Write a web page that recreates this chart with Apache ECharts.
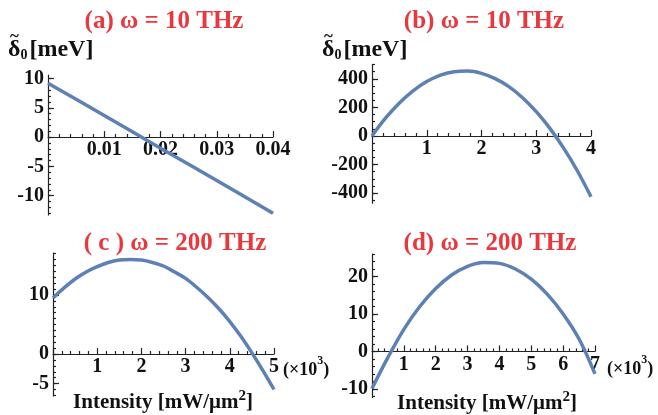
<!DOCTYPE html>
<html>
<head>
<meta charset="utf-8">
<script src="https://cdn.jsdelivr.net/npm/echarts@6/dist/echarts.min.js"></script>
<style>
  html, body { margin: 0; padding: 0; background: #fff; }
  #main { width: 658px; height: 415px; }
</style>
</head>
<body>
<div id="main"></div>
<script>
// (a) w = 10 THz, straight line
const xA = [0, 0.01, 0.02, 0.03, 0.04];
const yA = [9.2, 3.7, -1.9, -7.4, -13.0];

// (b) w = 10 THz
const xB = [0, 0.25, 0.5, 0.75, 1, 1.25, 1.5, 1.75, 2, 2.25, 2.5, 2.75, 3, 3.25, 3.5, 3.75, 4];
const yB = [0, 126, 231, 316, 381, 426, 450, 454, 438, 401, 345, 268, 170, 53, -85, -243, -425];

// (c) w = 200 THz
const xC = [0, 0.25, 0.5, 0.75, 1, 1.25, 1.5, 1.75, 2, 2.25, 2.5, 2.75, 3, 3.25, 3.5, 3.75, 4, 4.25, 4.5, 4.75, 5];
const yC = [9.5, 11.2, 12.7, 13.9, 14.8, 15.5, 15.9, 16.0, 15.9, 15.5, 14.9, 13.9, 12.8, 11.3, 9.6, 7.7, 5.5, 3.0, 0.2, -2.8, -6.0];

// (d) w = 200 THz
const xD = [0, 0.5, 1, 1.5, 2, 2.5, 3, 3.5, 4, 4.5, 5, 5.5, 6, 6.5, 7];
const yD = [-9.9, -1.6, 5.9, 12.0, 16.8, 20.4, 22.7, 23.7, 23.5, 22.0, 19.3, 15.3, 10.0, 3.3, -6.0];

// tick labels
const xLabA = [0.01, 0.02, 0.03, 0.04];
const yLabA = [-10, -5, 0, 5, 10];
const xLabB = [1, 2, 3, 4];
const yLabB = [-400, -200, 0, 200, 400];
const xLabC = [1, 2, 3, 4, 5];
const yLabC = [-5, 0, 10];
const xLabD = [1, 2, 3, 4, 5, 6, 7];
const yLabD = [-10, 0, 10, 20];

const titles = ['(a) ω = 10 THz', '(b) ω = 10 THz', '( c ) ω = 200 THz', '(d) ω = 200 THz'];

const serif = '"Liberation Serif", "Times New Roman", serif';
const red = '#e8383d';
const blue = '#5e81b5';

function ticks(from, to, step) {
  let out = [];
  let n = Math.round((to - from) / step);
  for (let i = 0; i <= n; i++) out.push(+(from + i * step).toFixed(6));
  return out;
}

let panels = [
  { box: { left: 48, top: 75, width: 225, height: 140 },
    x: [0, 0.04], xStep: 0.01, xLab: xLabA,
    y: [-13.3, 10.6], yMinor: ticks(-13, 10, 1), yMajor: yLabA, yLab: yLabA,
    xs: xA, ys: yA },
  { box: { left: 372, top: 64.5, width: 219, height: 138.7 },
    x: [0, 4], xStep: 1, xLab: xLabB,
    y: [-470, 500], yMinor: ticks(-450, 500, 50), yMajor: yLabB, yLab: yLabB,
    xs: xB, ys: yB },
  { box: { left: 53, top: 253, width: 221, height: 143 },
    x: [0, 5], xStep: 1, xLab: xLabC,
    y: [-7.1, 17.1], yMinor: ticks(-7, 17, 1), yMajor: yLabC, yLab: yLabC,
    xs: xC, ys: yC },
  { box: { left: 372, top: 254, width: 223, height: 143.5 },
    x: [0, 7], xStep: 1, xLab: xLabD,
    y: [-12.3, 26], yMinor: ticks(-12, 26, 2), yMajor: yLabD, yLab: yLabD,
    xs: xD, ys: yD }
];

let labelStyle = { color: '#111', fontFamily: serif, fontWeight: 'bold', fontSize: 20 };
let lineStyle = { color: '#222', width: 1.2 };
let hiddenLine = { color: '#222', width: 1, opacity: 0 };

let grid = [], xAxis = [], yAxis = [], series = [];
panels.forEach((p, k) => {
  grid.push(Object.assign({ outerBoundsMode: 'none' }, p.box));
  // x axis is moved up to the zero line after the first layout (see below)
  xAxis.push({
    gridIndex: k, type: 'value', min: p.x[0], max: p.x[1], interval: p.xStep, position: 'bottom',
    axisLine: { onZero: false, lineStyle: lineStyle },
    axisTick: { inside: true, length: 6, lineStyle: lineStyle },
    minorTick: { show: true, splitNumber: 5, length: 3, lineStyle: lineStyle },
    axisLabel: Object.assign({ customValues: p.xLab, margin: 3 }, labelStyle),
    splitLine: { show: false }, minorSplitLine: { show: false }
  });
  // minor ticks + axis line
  yAxis.push({
    gridIndex: k, type: 'value', min: p.y[0], max: p.y[1], position: 'left',
    axisLine: { show: true, onZero: false, lineStyle: lineStyle },
    axisTick: { show: true, inside: true, length: 3, customValues: p.yMinor, lineStyle: lineStyle },
    axisLabel: { show: false }, splitLine: { show: false }
  });
  // major ticks + labels
  yAxis.push({
    gridIndex: k, type: 'value', min: p.y[0], max: p.y[1], position: 'left',
    axisLine: { show: true, onZero: false, lineStyle: hiddenLine },
    axisTick: { show: true, inside: true, length: 6, customValues: p.yMajor, lineStyle: lineStyle },
    axisLabel: Object.assign({ customValues: p.yLab, margin: 4 }, labelStyle),
    splitLine: { show: false }
  });
  series.push({
    type: 'line', xAxisIndex: k, yAxisIndex: 2 * k,
    data: p.xs.map((v, i) => [v, p.ys[i]]),
    smooth: 0.35, showSymbol: false, symbol: 'none',
    lineStyle: { color: blue, width: 3.5 }, silent: true, animation: false
  });
});

let titlePos = [[164, 22], [484, 22], [175, 244], [490, 244]];
let graphic = titles.map((t, i) => ({
  type: 'text', x: titlePos[i][0], y: titlePos[i][1],
  style: { text: t, fill: red, font: 'bold 25px ' + serif, align: 'center', verticalAlign: 'middle' }
}));

// y axis names: delta with tilde, subscript 0
let deltaRich = {
  d: { fontFamily: serif, fontWeight: 'bold', fontSize: 24, fill: '#111', verticalAlign: 'middle' },
  s: { fontFamily: serif, fontWeight: 'bold', fontSize: 14, fill: '#111', verticalAlign: 'bottom', padding: [0, 2, 0, 0] },
  b: { fontFamily: serif, fontWeight: 'bold', fontSize: 24, fill: '#111', verticalAlign: 'middle' }
};
[[8, 50], [322, 50]].forEach(pos => {
  graphic.push({
    type: 'text', x: pos[0], y: pos[1],
    style: { text: '{d|δ}{s|0}{b|[meV]}', rich: deltaRich, verticalAlign: 'middle', align: 'left' }
  });
  graphic.push({
    type: 'text', x: pos[0] + 6.5, y: pos[1] - 13,
    style: { text: '~', fill: '#111', font: 'bold 17px ' + serif, align: 'center', verticalAlign: 'middle' }
  });
});

// x axis names
let intRich = {
  a: { fontFamily: serif, fontWeight: 'bold', fontSize: 21, lineHeight: 25, fill: '#111', verticalAlign: 'bottom' },
  p: { fontFamily: serif, fontWeight: 'bold', fontSize: 15, fill: '#111', verticalAlign: 'top' }
};
[[163, 401], [487, 402]].forEach(pos => {
  graphic.push({
    type: 'text', x: pos[0], y: pos[1],
    style: { text: '{a|Intensity [mW/μm}{p|2}{a|]}', rich: intRich, align: 'center', verticalAlign: 'middle' }
  });
});

let expRich = {
  a: { fontFamily: serif, fontWeight: 'bold', fontSize: 18, lineHeight: 24, fill: '#111', verticalAlign: 'bottom' },
  p: { fontFamily: serif, fontWeight: 'bold', fontSize: 12, fill: '#111', verticalAlign: 'top' }
};
[[283, 367], [607, 366]].forEach(pos => {
  graphic.push({
    type: 'text', x: pos[0], y: pos[1],
    style: { text: '{a|(×10}{p|3}{a|)}', rich: expRich, align: 'left', verticalAlign: 'middle' }
  });
});

let chart = echarts.init(document.getElementById('main'), null, { renderer: 'canvas' });
chart.setOption({
  animation: false,
  backgroundColor: '#fff',
  grid: grid,
  xAxis: xAxis,
  yAxis: yAxis,
  series: series,
  graphic: graphic
});

// put each x axis (line, ticks and labels) on the y = 0 level of its panel
let shifted = panels.map((p, k) => {
  let zeroY = chart.convertToPixel({ yAxisIndex: 2 * k }, 0);
  return { offset: zeroY - (p.box.top + p.box.height) };
});
chart.setOption({ xAxis: shifted });
</script>
</body>
</html>
